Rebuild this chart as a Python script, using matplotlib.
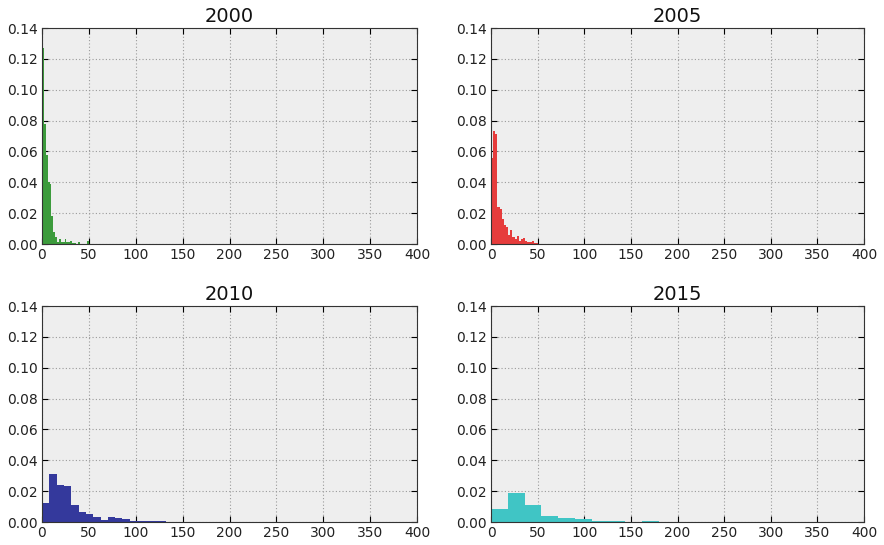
"""Four-panel histogram grid of yearly distributions (2000-2015)."""

import matplotlib

matplotlib.use("Agg")

import matplotlib.pyplot as plt
import numpy as np
from matplotlib.ticker import FormatStrFormatter

# bin width and per-bin heights
years = ["2000", "2005", "2010", "2015"]
colors = ["#3c9b3c", "#e63c3c", "#34399c", "#40c5c5"]

width_2000 = 2.0
heights_2000 = [0.127, 0.078, 0.058, 0.040, 0.039, 0.018, 0.008, 0.0045, 0.0015,
                0.003, 0.0015, 0.001, 0.003, 0.0015, 0.001, 0.002, 0.0005, 0.0005,
                0.0, 0.0015, 0.0, 0.0, 0.0, 0.0, 0.002]

width_2005 = 2.3
heights_2005 = [0.056, 0.073, 0.071, 0.024, 0.023, 0.016, 0.012, 0.011, 0.006,
                0.009, 0.0045, 0.003, 0.005, 0.002, 0.003, 0.004, 0.002, 0.001,
                0.001, 0.002, 0.0005, 0.0005, 0.0003, 0.0, 0.0003, 0.0003, 0.0,
                0.0003]

width_2010 = 7.8
heights_2010 = [0.0123, 0.0314, 0.0242, 0.0231, 0.011, 0.0066, 0.0055, 0.003,
                0.0015, 0.0033, 0.0029, 0.002, 0.0009, 0.0008, 0.0006, 0.0004,
                0.0008]

width_2015 = 18.0
heights_2015 = [0.0085, 0.0188, 0.0107, 0.0037, 0.0023, 0.0018, 0.0005, 0.0005,
                0.0003, 0.0005]

widths = [width_2000, width_2005, width_2010, width_2015]
heights = [heights_2000, heights_2005, heights_2010, heights_2015]

x_ticks = list(range(0, 401, 50))
y_ticks = [0.00, 0.02, 0.04, 0.06, 0.08, 0.10, 0.12, 0.14]

fig = plt.figure(figsize=(8.84, 5.45), dpi=100)

W, H = 884, 545
panel_boxes = [  # left, top, right, bottom in pixels
    (42, 28, 417, 244),
    (491, 28, 864, 244),
    (42, 306, 417, 522),
    (491, 306, 864, 522),
]

for box, year, color, bw, hs in zip(panel_boxes, years, colors, widths, heights):
    left, top, right, bottom = box
    ax = fig.add_axes([left / W, 1 - bottom / H, (right - left) / W, (bottom - top) / H])
    ax.set_facecolor("#eeeeee")
    edges = np.arange(len(hs) + 1) * bw
    ax.stairs(hs, edges, fill=True, color=color, linewidth=0)
    ax.set_xlim(0, 400)
    ax.set_ylim(0, 0.14)
    ax.set_xticks(x_ticks)
    ax.set_yticks(y_ticks)
    ax.yaxis.set_major_formatter(FormatStrFormatter("%.2f"))
    ax.grid(True, color="#9a9a9a", linestyle=(0, (1, 2)), linewidth=0.8)
    ax.set_axisbelow(True)
    ax.tick_params(direction="in", top=True, right=True, length=4, width=0.8,
                   labelsize=10, pad=3, labelcolor="#222222")
    for spine in ax.spines.values():
        spine.set_color("#333333")
        spine.set_linewidth(0.8)
    ax.set_title(year, fontsize=14, pad=4, color="#111111")

fig.savefig("out.png", dpi=100)
